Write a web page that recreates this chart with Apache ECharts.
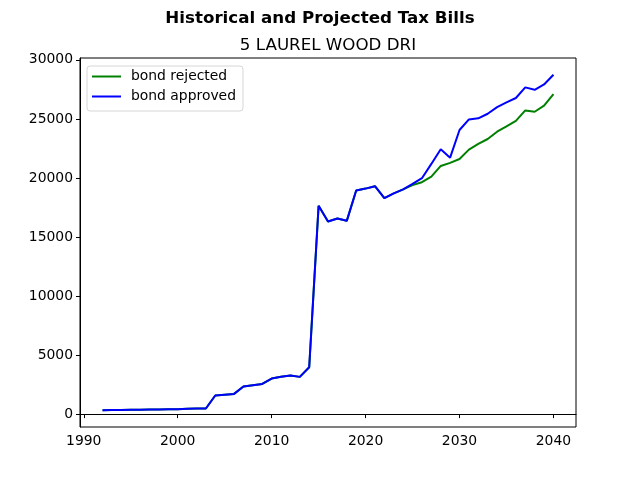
<!DOCTYPE html>
<html><head><meta charset="utf-8">
<script src="https://cdn.jsdelivr.net/npm/echarts@6/dist/echarts.min.js"></script>
<style>html,body{margin:0;padding:0;background:#fff}#c{width:640px;height:480px}</style>
</head><body><div id="c"></div>
<script>
const years = [1992,1993,1994,1995,1996,1997,1998,1999,2000,2001,2002,2003,2004,2005,2006,2007,2008,2009,2010,2011,2012,2013,2014,2015,2016,2017,2018,2019,2020,2021,2022,2023,2024,2025,2026,2027,2028,2029,2030,2031,2032,2033,2034,2035,2036,2037,2038,2039,2040];
const bondRejected = [330,340,350,370,380,390,400,410,420,450,470,480,1580,1650,1715,2340,2450,2560,3015,3170,3270,3155,3970,17650,16315,16570,16370,18935,19100,19300,18285,18700,19040,19400,19640,20120,21020,21280,21610,22400,22880,23300,23920,24370,24830,25720,25610,26120,27110];
const bondApproved = [330,340,350,370,380,390,400,410,420,450,470,480,1580,1650,1715,2340,2450,2560,3015,3170,3270,3155,3970,17650,16315,16570,16370,18935,19100,19300,18285,18700,19040,19500,19980,21190,22430,21720,24060,24960,25050,25440,26000,26400,26770,27670,27470,27920,28740];
const xTicks = [1990,2000,2010,2020,2030,2040];
const yTicks = [0,5000,10000,15000,20000,25000,30000];
const seriesNames = ['bond rejected','bond approved'];
const font = 'DejaVu Sans';
const chart = echarts.init(document.getElementById('c'), null, {renderer:'canvas'});
const pair = (xs, ys) => xs.map((x,i)=>[x, ys[i]]);
chart.setOption({
  animation:false,
  backgroundColor:'#fff',
  title:[
    {text:'Historical and Projected Tax Bills', left:'center', top:5, textStyle:{fontFamily:font, fontWeight:'bold', fontSize:16.7, color:'#000'}},
    {text:'5 LAUREL WOOD DRI', left:323, top:32, textAlign:'center', textStyle:{fontFamily:font, fontWeight:'normal', fontSize:16.7, color:'#000'}}
  ],
  grid:{left:80, right:64, top:58, bottom:53, show:true, borderColor:'#000', borderWidth:1, backgroundColor:'transparent'},
  legend:{
    data:seriesNames, orient:'vertical', left:87, top:66, icon:'rect', itemWidth:29, itemHeight:2,
    itemGap:3, padding:[2,7,6,5], borderColor:'#d6d6d6', borderWidth:1, borderRadius:3, backgroundColor:'rgba(255,255,255,0.8)',
    textStyle:{fontFamily:font, fontSize:13.9, color:'#000', lineHeight:17, padding:[0,0,0,5]}
  },
  xAxis:{type:'value', min:1989.6, max:2042.4,
    axisLine:{lineStyle:{color:'#000'}},
    axisTick:{show:true, length:4, inside:false, lineStyle:{color:'#000'}, customValues:xTicks},
    axisLabel:{customValues:xTicks, fontFamily:font, fontSize:13.9, color:'#000', margin:7, formatter:v=>String(v)},
    splitLine:{show:false}},
  yAxis:{type:'value', min:-1090, max:30160,
    axisLine:{show:true, lineStyle:{color:'#000'}},
    axisTick:{show:true, length:4, inside:false, lineStyle:{color:'#000'}, customValues:yTicks},
    axisLabel:{customValues:yTicks, fontFamily:font, fontSize:13.9, color:'#000', margin:7, formatter:v=>String(v)},
    splitLine:{show:false}},
  series:[
    {name:seriesNames[0], type:'line', data:pair(years,bondRejected), symbol:'none', lineStyle:{color:'#008000', width:2}, itemStyle:{color:'#008000'}, z:2},
    {name:seriesNames[1], type:'line', data:pair(years,bondApproved), symbol:'none', lineStyle:{color:'#0000ff', width:2}, itemStyle:{color:'#0000ff'}, z:3}
  ]
});
</script></body></html>
